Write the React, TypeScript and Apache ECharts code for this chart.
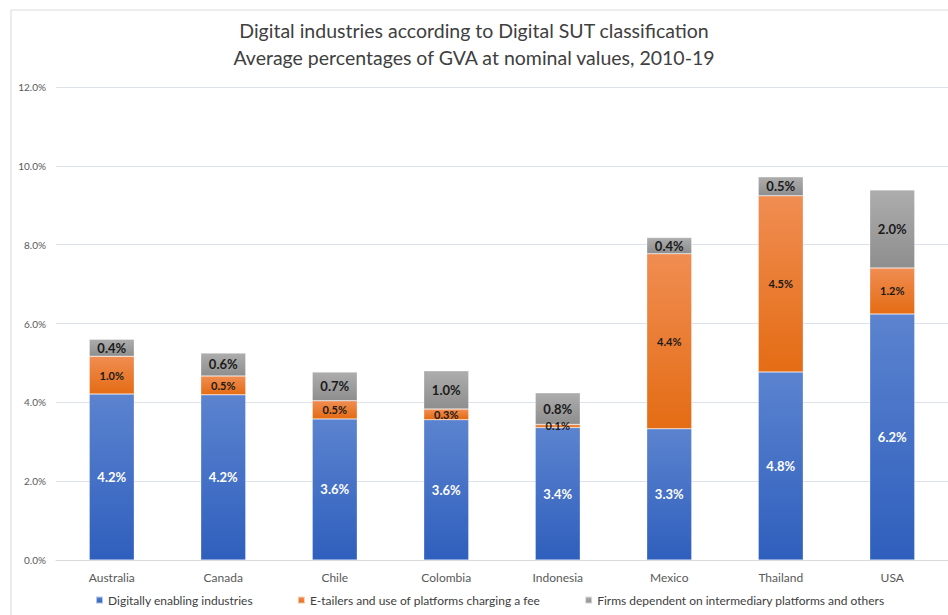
import React, { useEffect, useRef } from "react";
import * as echarts from "echarts";

const categories = ["Australia", "Canada", "Chile", "Colombia", "Indonesia", "Mexico", "Thailand", "USA"];
const digitallyEnabling = [4.21, 4.19, 3.58, 3.56, 3.36, 3.33, 4.77, 6.24];
const eTailers = [0.96, 0.48, 0.46, 0.27, 0.08, 4.44, 4.47, 1.17];
const firmsDependent = [0.43, 0.58, 0.73, 0.97, 0.8, 0.41, 0.48, 1.98];
const yTicks = [0, 2, 4, 6, 8, 10, 12];

const FONT = "Lato";

const grad = (top: string, bottom: string) =>
  new echarts.graphic.LinearGradient(0, 0, 0, 1, [
    { offset: 0, color: top },
    { offset: 1, color: bottom },
  ]);

export default function App() {
  const ref = useRef<HTMLDivElement>(null);
  useEffect(() => {
    if (!ref.current) return;
    const chart = echarts.init(ref.current, null, { renderer: "svg" });
    const labelFmt = (p: any) => p.value.toFixed(1) + "%";
    const mkSeries = (name: string, data: number[], top: string, bottom: string, labelColor: string, fs: number) => ({
      name,
      type: "bar",
      stack: "total",
      data,
      barWidth: 45,
      itemStyle: { color: grad(top, bottom), borderColor: "rgba(255,255,255,0.6)", borderWidth: 0.5 },
      label: {
        show: true,
        position: "inside",
        formatter: labelFmt,
        color: labelColor,
        fontWeight: "bold",
        fontSize: fs,
        fontFamily: FONT,
      },
    });
    chart.setOption({
      animation: false,
      backgroundColor: "#ffffff",
      color: ["#4472c4", "#ed7d31", "#a5a5a5"],
      title: {
        text: "Digital industries according to Digital SUT classification\nAverage percentages of GVA at nominal values, 2010-19",
        left: "center",
        top: 12,
        textStyle: { fontFamily: FONT, fontSize: 19.5, fontWeight: "normal", color: "#404040", lineHeight: 27 },
      },
      graphic: [
        {
          type: "rect",
          shape: { x: 11, y: 10, width: 1000, height: 700 },
          style: { fill: "none", stroke: "#d9d9d9", lineWidth: 1 },
          silent: true,
        },
      ],
      grid: { left: 56, right: -3, top: 87, bottom: 55, containLabel: false },
      legend: {
        bottom: 4,
        left: 90,
        itemWidth: 7,
        itemHeight: 7,
        itemGap: 44,
        icon: "rect",
        textStyle: { fontFamily: FONT, fontSize: 12, color: "#404040" },
        data: [
          "Digitally enabling industries",
          "E-tailers and use of platforms charging a fee",
          "Firms dependent on intermediary platforms and others",
        ],
      },
      xAxis: {
        type: "category",
        data: categories,
        axisLine: { lineStyle: { color: "#d9d9d9" } },
        axisTick: { show: false },
        axisLabel: { fontFamily: FONT, fontSize: 12, color: "#595959", margin: 11 },
      },
      yAxis: {
        type: "value",
        min: yTicks[0],
        max: yTicks[yTicks.length - 1],
        interval: 2,
        axisLine: { show: false },
        axisTick: { show: false },
        splitLine: { lineStyle: { color: "#dde2ea" } },
        axisLabel: {
          fontFamily: FONT,
          fontSize: 10,
          color: "#595959",
          margin: 10,
          formatter: (v: number) => v.toFixed(1) + "%",
        },
      },
      series: [
        mkSeries("Digitally enabling industries", digitallyEnabling, "#5b83cf", "#2f5fbd", "#ffffff", 13),
        mkSeries("E-tailers and use of platforms charging a fee", eTailers, "#f08d52", "#e46c14", "#1a1a1a", 11),
        mkSeries("Firms dependent on intermediary platforms and others", firmsDependent, "#adadad", "#8e8e8e", "#1a1a1a", 13),
      ],
    });
    return () => chart.dispose();
  }, []);
  return (
    <div
      ref={ref}
      style={{ position: "absolute", left: 0, top: 0, width: 948, height: 615 }}
    />
  );
}
